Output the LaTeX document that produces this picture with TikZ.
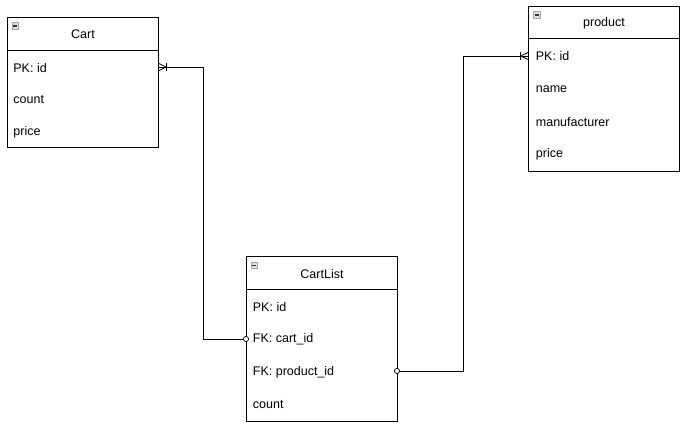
\documentclass[tikz,border=0pt]{standalone}
\usepackage{fontspec}
\setmainfont{Liberation Sans}
\usetikzlibrary{calc}
\begin{document}
\begin{tikzpicture}[x=1pt,y=-1pt,
  line width=0.8pt,
  ent/.style={draw=black, fill=white, line width=0.9pt},
  txt/.style={font=\fontsize{12.5}{14}\selectfont, inner sep=0pt, anchor=west},
  ttl/.style={font=\fontsize{12.5}{14}\selectfont, inner sep=0pt},
  icon/.style={draw=gray!70, fill=gray!25, line width=0.5pt, minimum size=6.5pt, inner sep=0pt},
  conn/.style={draw=black, line width=0.8pt}]
\useasboundingbox (0,0) rectangle (687,427);
% ---------- Cart ----------
\draw[ent] (7,17.3) rectangle (158.5,147.5);
\draw[ent] (7,50.5) -- (158.5,50.5);
\node[icon] (cicon) at (15.3,26) {};
\draw[line width=1.2pt, black!80] (13.3,26) -- (17.3,26);
\node[ttl] (cart) at (83,34.5) {Cart};
\node[txt] (cartpk) at (13,68) {PK: id};
\node[txt] (cartcount) at (13,100) {count};
\node[txt] (cartprice) at (13,132) {price};
\coordinate (cartR) at (158.5,67);
% ---------- product ----------
\draw[ent] (528.3,6) rectangle (679.3,171.5);
\draw[ent] (528.3,38.5) -- (679.3,38.5);
\node[icon] (picon) at (536.6,15) {};
\draw[line width=1.2pt, black!80] (534.6,15) -- (538.6,15);
\node[ttl] (product) at (604,23) {product};
\node[txt] (ppk) at (535.5,56.5) {PK: id};
\node[txt] (pname) at (535.5,89.5) {name};
\node[txt] (pmanu) at (535.5,122) {manufacturer};
\node[txt] (pprice) at (535.5,154.5) {price};
\coordinate (prodL) at (528.3,56);
% ---------- CartList ----------
\draw[ent] (246,256.7) rectangle (397,421);
\draw[ent] (246,289.3) -- (397,289.3);
\node[icon] (licon) at (254.3,265.3) {};
\draw[line width=1.2pt, black!80] (252.3,265.3) -- (256.3,265.3);
\node[ttl] (cartlist) at (322,274.5) {CartList};
\node[txt] (lpk) at (252.5,307) {PK: id};
\node[txt] (lcart) at (252.5,339.5) {FK: cart\_id};
\node[txt] (lprod) at (252.5,372) {FK: product\_id};
\node[txt] (lcount) at (252.5,404.5) {count};
\coordinate (lcartL) at (246,339);
\coordinate (lprodR) at (397,371);
% ---------- connector Cart -- CartList ----------
\draw[conn] (cartR) -- (203,67) -- (203,339) -- ($(lcartL)+(-2.6,0)$);
\draw[conn] (158.5,63.3) -- (166,67) -- (158.5,70.7);
\draw[conn] (166,63.3) -- (166,70.7);
\draw[conn, fill=white, line width=0.7pt] (lcartL) circle (2.6);
% ---------- connector product -- CartList ----------
\draw[conn] ($(lprodR)+(2.6,0)$) -- (463,371) -- (463,56) -- (prodL);
\draw[conn] (528.3,52.3) -- (520.8,56) -- (528.3,59.7);
\draw[conn] (520.8,52.3) -- (520.8,59.7);
\draw[conn, fill=white, line width=0.7pt] (lprodR) circle (2.6);
\end{tikzpicture}
\end{document}
